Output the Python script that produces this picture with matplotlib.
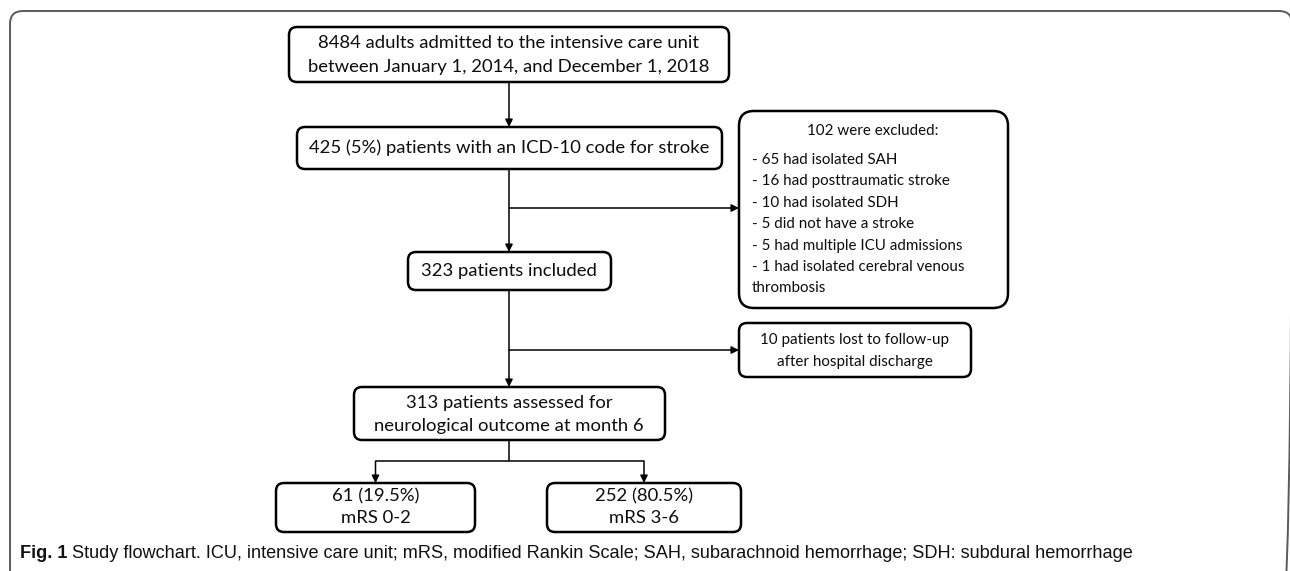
"""
Study flowchart: stroke patients admitted to the ICU.
"""
import matplotlib
matplotlib.use("Agg")
import matplotlib.pyplot as plt
from matplotlib.patches import FancyBboxPatch

# ---- flowchart numbers ----
n_admitted = 8484
period = "between January 1, 2014, and December 1, 2018"
n_stroke = 425
stroke_pct = 5
n_excluded = 102
excl_counts = [65, 16, 10, 5, 5, 1]
excl_reasons = ["had isolated SAH", "had posttraumatic stroke", "had isolated SDH",
                "did not have a stroke", "had multiple ICU admissions",
                "had isolated cerebral venous"]
excl_wrap = "thrombosis"
n_included = 323
n_lost = 10
n_assessed = 313
outcome_n = [61, 252]
outcome_pct = [19.5, 80.5]
outcome_labels = ["mRS 0-2", "mRS 3-6"]
caption_bold = "Fig. 1"
caption = ("Study flowchart. ICU, intensive care unit; mRS, modified Rankin Scale; "
           "SAH, subarachnoid hemorrhage; SDH: subdural hemorrhage")

BOX_FONT = ["Lato", "DejaVu Sans"]
CAP_FONT = ["Liberation Sans", "DejaVu Sans"]
BIG = 13.3
SMALL = 10.9

fig = plt.figure(figsize=(12.9, 5.71), dpi=100)
ax = fig.add_axes([0, 0, 1, 1])
ax.set_xlim(0, 1290)
ax.set_ylim(571, 0)
ax.axis("off")

# outer frame (open at the bottom, runs off the page)
ax.add_patch(FancyBboxPatch((10, 11), 1282, 640, boxstyle="round,pad=0,rounding_size=13",
                            fc="none", ec="#5a5a5a", lw=1.4))


def box(x0, y0, x1, y1, r=8):
    ax.add_patch(FancyBboxPatch((x0, y0), x1 - x0, y1 - y0,
                                boxstyle=f"round,pad=0,rounding_size={r}",
                                fc="white", ec="black", lw=1.8, zorder=3))


def label(x, y, s, size=BIG, ha="center"):
    ax.text(x, y, s, ha=ha, va="center", fontsize=size, family=BOX_FONT,
            color="#0d0d0d", zorder=4)


def arrow(x0, y0, x1, y1):
    ax.annotate("", xy=(x1, y1), xytext=(x0, y0),
                arrowprops=dict(arrowstyle="-|>", mutation_scale=11, lw=1.1,
                                color="black", shrinkA=0, shrinkB=0), zorder=2)


def line(xs, ys):
    ax.plot(xs, ys, color="black", lw=1.1, zorder=2, solid_capstyle="butt")


cx = 509

# boxes
box(289, 27, 729, 82)
label(cx, 43, f"{n_admitted} adults admitted to the intensive care unit")
label(cx, 67, period)

box(297, 127, 722, 169)
label(cx, 148, f"{n_stroke} ({stroke_pct}%) patients with an ICD-10 code for stroke")

box(739, 111, 1008, 308, r=15)
label(873, 131, f"{n_excluded} were excluded:", size=SMALL)
ys = [160 + 21.4 * i for i in range(len(excl_counts) + 1)]
for y, c, r in zip(ys, excl_counts, excl_reasons):
    label(752, y, f"- {c} {r}", size=SMALL, ha="left")
label(752, ys[-1], excl_wrap, size=SMALL, ha="left")

box(408, 252, 611, 290)
label(cx, 271, f"{n_included} patients included")

box(739, 323, 971, 377)
label(855, 340, f"{n_lost} patients lost to follow-up", size=SMALL)
label(855, 362, "after hospital discharge", size=SMALL)

box(354, 387, 665, 440)
label(cx, 403, f"{n_assessed} patients assessed for")
label(cx, 426, "neurological outcome at month 6")

out_x = [(276, 475), (547, 741)]
for (x0, x1), n, p, lab in zip(out_x, outcome_n, outcome_pct, outcome_labels):
    box(x0, 483, x1, 532)
    label((x0 + x1) / 2, 496, f"{n} ({p}%)")
    label((x0 + x1) / 2, 518, lab)

# connectors
arrow(cx, 82, cx, 127)
arrow(cx, 169, cx, 252)
arrow(cx, 208, 739, 208)
arrow(cx, 290, cx, 387)
arrow(cx, 350, 739, 350)
line([cx, cx], [440, 461])
centers = [(a + b) / 2 for a, b in out_x]
line([centers[0], centers[1]], [461, 461])
for c in centers:
    arrow(c, 461, c, 483)

# caption
ax.text(20, 553, caption_bold, ha="left", va="center", fontsize=13.1,
        fontweight="bold", family=CAP_FONT, color="#111111")
ax.text(72, 553, caption, ha="left", va="center", fontsize=13.1,
        family=CAP_FONT, color="#111111")

fig.savefig("out.png", dpi=100)
